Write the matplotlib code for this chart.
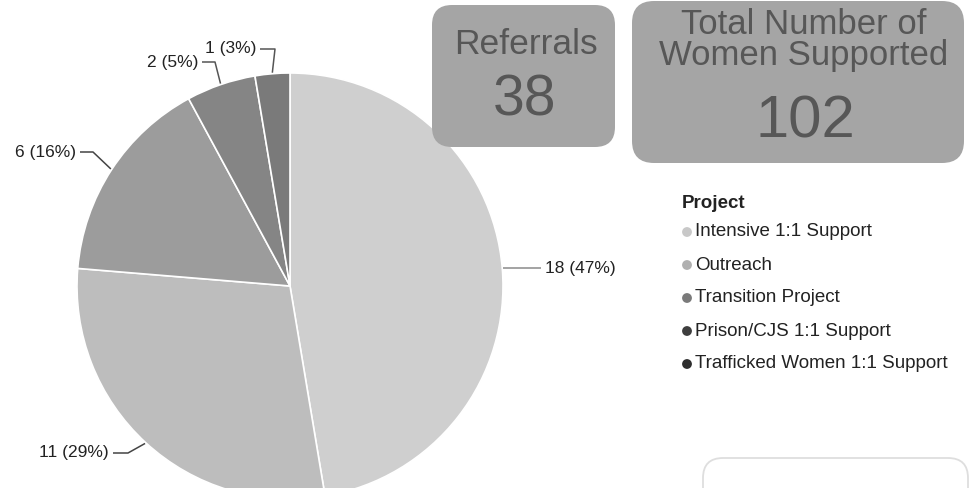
import numpy as np
import matplotlib
matplotlib.use("Agg")
import matplotlib.pyplot as plt
from matplotlib.patches import FancyBboxPatch

plt.rcParams['font.family'] = ['Liberation Sans', 'DejaVu Sans']

projects = ["Intensive 1:1 Support", "Outreach", "Transition Project",
            "Prison/CJS 1:1 Support", "Trafficked Women 1:1 Support"]
counts = [18, 11, 6, 2, 1]
slice_colors = ["#cfcfcf", "#bdbdbd", "#9c9c9c", "#858585", "#7a7a7a"]
marker_colors = ["#c8c8c8", "#b0b0b0", "#7a7a7a", "#3e3e3e", "#2e2e2e"]

referrals = 38
women_supported = 102

W, H = 972, 488
fig = plt.figure(figsize=(W / 100, H / 100), dpi=100)
ax = fig.add_axes([0, 0, 1, 1])


def Y(y):
    return H - y


# pie
cx, cy, r = 290, Y(286), 213
wedges, _ = ax.pie(counts, colors=slice_colors, startangle=90, counterclock=False,
                   center=(cx, cy), radius=r, frame=True,
                   wedgeprops=dict(edgecolor='white', linewidth=1.2))
ax.set_xlim(0, W)
ax.set_ylim(0, H)
ax.set_aspect('equal')
ax.axis('off')

total = sum(counts)
labels = [f"{v} ({round(100 * v / total)}%)" for v in counts]

# label placement: elbow point and text anchor (pixel coords, y downwards)
elbows = [(540, None), (128, 453), (93, 152), (215, 62), (275, 49)]
text_pos = [(545, 'left'), (109, 'right'), (76, 'right'), (198, 'right'), (256, 'right')]
leader_colors = ['#8a8a8a', '#444444', '#444444', '#555555', '#555555']

cum = 0
for i, v in enumerate(counts):
    mid = 90 - 360 * (cum + v / 2) / total
    cum += v
    a = np.deg2rad(mid)
    ex, ey = cx + (r + 1) * np.cos(a), cy + (r + 1) * np.sin(a)
    bx, by = elbows[i]
    by_ = ey if by is None else Y(by)
    tx, ha = text_pos[i]
    hx = tx + (-4 if ha == 'left' else 4)
    ax.plot([ex, bx, hx], [ey, by_, by_], color=leader_colors[i], lw=1.1,
            solid_capstyle='butt')
    ax.text(tx, by_, labels[i], ha=ha, va='center', fontsize=12.5,
            color='#222222')

# summary boxes
box_color = '#a5a5a5'
text_color = '#575757'


def rbox(x0, y0, x1, y1, rad):
    p = FancyBboxPatch((x0 + rad, Y(y1) + rad), (x1 - x0) - 2 * rad,
                       (y1 - y0) - 2 * rad,
                       boxstyle=f"round,pad={rad},rounding_size={rad}",
                       facecolor=box_color, edgecolor='none', zorder=3)
    ax.add_patch(p)


rbox(432, 5, 615, 147, 20)
ax.text(526, Y(44), "Referrals", ha='center', va='center', fontsize=25.5,
        color=text_color, zorder=4)
ax.text(525, Y(101), f"{referrals}", ha='center', va='center', fontsize=41,
        color=text_color, zorder=4)

rbox(632, 1, 964, 163, 22)
ax.text(804, Y(24), "Total Number of", ha='center', va='center', fontsize=25,
        color=text_color, zorder=4)
ax.text(804, Y(56), "Women Supported", ha='center', va='center', fontsize=25,
        color=text_color, zorder=4)
ax.text(805, Y(122), f"{women_supported}", ha='center', va='center',
        fontsize=43, color=text_color, zorder=4)

# legend
ax.text(682, Y(203), "Project", ha='left', va='center', fontsize=13.5,
        fontweight='bold', color='#222222')
for i, name in enumerate(projects):
    yy = Y(232 + 33 * i)
    ax.scatter([687], [yy], s=50, color=marker_colors[i], edgecolors='none',
               zorder=4)
    ax.text(695, yy, name, ha='left', va='center', fontsize=13.5,
            color='#222222')

# empty panel outline at the bottom right
panel = FancyBboxPatch((703 + 20, Y(520) + 20), 265 - 40, 62 - 40,
                       boxstyle="round,pad=20,rounding_size=20",
                       facecolor='white', edgecolor='#dedede', lw=1.3)
ax.add_patch(panel)

fig.savefig("out.png", dpi=100)
